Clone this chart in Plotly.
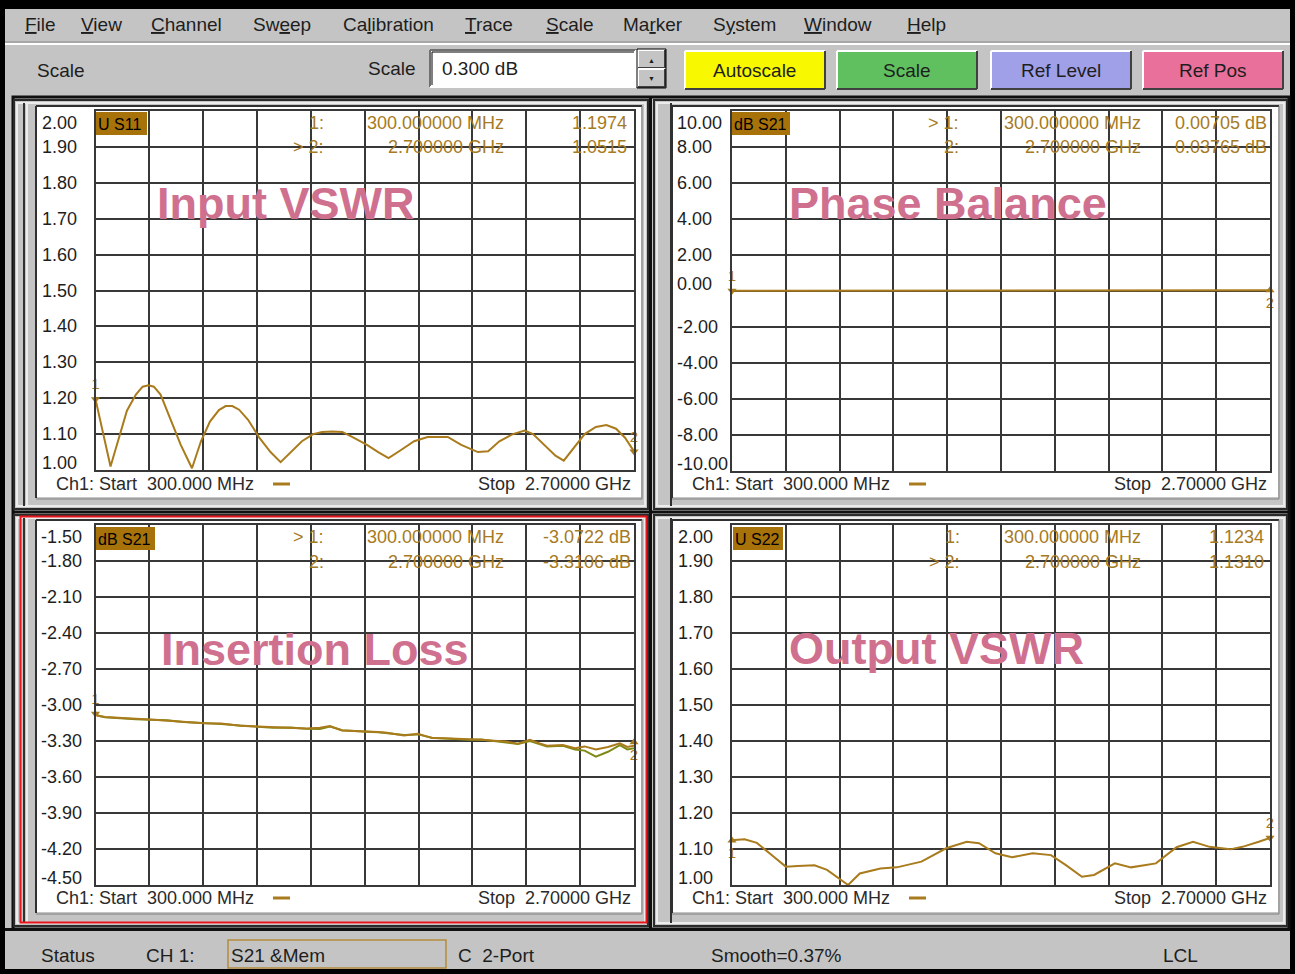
import plotly.graph_objects as go

W, H = 1295, 974
FONT = "Liberation Sans"

# ---------------- data ----------------
freq_start_mhz = 300
freq_stop_mhz = 2700
freq_div_mhz = 240

vswr_in_freq = [300, 320, 340, 367, 400, 440, 480, 510, 536, 560, 590, 630, 680, 730, 770, 810, 850, 880,
                910, 940, 980, 1030, 1080, 1125, 1170, 1220, 1270, 1310, 1355, 1400, 1450, 1510, 1560, 1606,
                1660, 1720, 1780, 1830, 1870, 1930, 2004, 2050, 2100, 2160, 2213, 2250, 2300, 2350, 2387,
                2430, 2480, 2530, 2577, 2620, 2660, 2700]
vswr_in_val = [1.197, 1.14, 1.08, 1.01, 1.08, 1.165, 1.21, 1.232, 1.236, 1.232, 1.21, 1.15, 1.07, 1.005,
               1.08, 1.135, 1.167, 1.178, 1.178, 1.168, 1.14, 1.09, 1.05, 1.022, 1.05, 1.08, 1.10, 1.106,
               1.107, 1.106, 1.09, 1.07, 1.05, 1.033, 1.055, 1.08, 1.092, 1.093, 1.092, 1.07, 1.05, 1.052,
               1.08, 1.10, 1.11, 1.10, 1.07, 1.04, 1.026, 1.06, 1.10, 1.12, 1.125, 1.115, 1.09, 1.052]

phase_freq = [300, 540, 780, 1020, 1260, 1500, 1740, 1980, 2220, 2400, 2460, 2700]
phase_val = [0.007, 0.010, 0.012, 0.015, 0.018, 0.020, 0.022, 0.025, 0.030, 0.050, 0.032, 0.037]

il_freq = [300, 311, 342, 418, 480, 543, 620, 690, 784, 860, 944, 1020, 1091, 1170, 1238, 1300, 1345,
           1399, 1450, 1510, 1560, 1599, 1675, 1737, 1800, 1880, 1965, 2020, 2076, 2130, 2183, 2236,
           2280, 2312, 2383, 2437, 2480, 2530, 2584, 2637, 2670, 2700]
il_data = [-3.072, -3.09, -3.10, -3.11, -3.115, -3.12, -3.13, -3.14, -3.152, -3.155, -3.172, -3.18,
           -3.186, -3.19, -3.195, -3.19, -3.175, -3.212, -3.215, -3.22, -3.225, -3.232, -3.255, -3.24,
           -3.276, -3.28, -3.285, -3.29, -3.298, -3.305, -3.322, -3.29, -3.32, -3.34, -3.333, -3.36,
           -3.345, -3.37, -3.35, -3.32, -3.35, -3.34]
il_mem = [-3.06, -3.088, -3.102, -3.112, -3.118, -3.122, -3.128, -3.142, -3.15, -3.158, -3.17, -3.182,
          -3.19, -3.188, -3.198, -3.20, -3.18, -3.21, -3.218, -3.222, -3.228, -3.235, -3.25, -3.245,
          -3.272, -3.282, -3.29, -3.288, -3.30, -3.31, -3.325, -3.30, -3.325, -3.345, -3.34, -3.37,
          -3.38, -3.43, -3.39, -3.335, -3.37, -3.36]

vswr_out_freq = [300, 310, 356, 411, 485, 540, 594, 668, 724, 777, 818, 870, 962, 1035, 1145, 1255, 1347,
                 1402, 1475, 1549, 1641, 1723, 1788, 1861, 1915, 2008, 2080, 2191, 2283, 2357, 2430, 2522,
                 2577, 2650, 2700]
vswr_out_val = [1.123, 1.125, 1.127, 1.117, 1.079, 1.051, 1.053, 1.055, 1.042, 1.019, 1.0, 1.032, 1.046,
                1.049, 1.065, 1.102, 1.12, 1.116, 1.088, 1.077, 1.088, 1.083, 1.056, 1.023, 1.028, 1.06,
                1.049, 1.06, 1.105, 1.12, 1.106, 1.099, 1.106, 1.12, 1.131]

in_ticks = ["2.00", "1.90", "1.80", "1.70", "1.60", "1.50", "1.40", "1.30", "1.20", "1.10", "1.00"]
phase_ticks = ["10.00", "8.00", "6.00", "4.00", "2.00", "0.00", "-2.00", "-4.00", "-6.00", "-8.00", "-10.00"]
il_ticks = ["-1.50", "-1.80", "-2.10", "-2.40", "-2.70", "-3.00", "-3.30", "-3.60", "-3.90", "-4.20", "-4.50"]
out_ticks = ["2.00", "1.90", "1.80", "1.70", "1.60", "1.50", "1.40", "1.30", "1.20", "1.10", "1.00"]

panel_titles = ["Input VSWR", "Phase Balance", "Insertion Loss", "Output VSWR"]
panel_params = ["U S11", "dB S21", "dB S21", "U S22"]
marker1_vals = [1.1974, 0.00705, -3.0722, 1.1234]
marker2_vals = [1.0515, 0.03765, -3.3106, 1.1310]
marker1_text = ["1.1974", "0.00705 dB", "-3.0722 dB", "1.1234"]
marker2_text = ["1.0515", "0.03765 dB", "-3.3106 dB", "1.1310"]
marker1_freq_text = "300.000000 MHz"
marker2_freq_text = "2.700000 GHz"
active_marker = [2, 1, 1, 2]
ref_values = [1.0, 0.0, -3.0, 1.0]
start_text = "Ch1: Start  300.000 MHz"
stop_text = "Stop  2.70000 GHz"

menu_items = ["<u>F</u>ile", "<u>V</u>iew", "<u>C</u>hannel", "Sw<u>e</u>ep", "Ca<u>l</u>ibration",
              "<u>T</u>race", "<u>S</u>cale", "Ma<u>r</u>ker", "S<u>y</u>stem", "<u>W</u>indow", "<u>H</u>elp"]
toolbar_buttons = ["Autoscale", "Scale", "Ref Level", "Ref Pos"]
scale_value_text = "0.300 dB"
status_items = ["Status", "CH 1:", "S21 &Mem", "C  2-Port", "Smooth=0.37%", "LCL"]

# ---------------- styling / layout positions ----------------
GOLD = "#a97b1c"
OLIVE = "#7f8a14"
TXT_GOLD = "#a67a22"
PINK = "#d0708f"
GRID = "#383838"
GRAY = "#c4c4c4"
LABEL_BOX = "#a8720a"
DARK_TXT = "#1e1e1e"

menu_x = [24, 80, 150, 252, 342, 464, 545, 622, 712, 803, 906]
button_boxes = [(685, 51, 825, 89), (837, 51, 977, 89), (991, 51, 1131, 89), (1143, 51, 1283, 89)]
button_colors = ["#f8f800", "#60c060", "#a0a0e8", "#e8709a"]

panels = [
    dict(ox=(14, 648), oy=(100, 509), ix=(37, 641), iy=(107, 497), dx=(95.5, 634), dy=(111, 470),
         yr=[1.0, 2.0], dt=0.1, lblx=41, title=(158, 203), box=(96, 112, 147, 135),
         mk=(325, 505, 628), mky=(123, 147), foot=(55, 273, 632, 484)),
    dict(ox=(654, 1287), oy=(100, 509), ix=(673, 1278), iy=(107, 497), dx=(732, 1270), dy=(111, 471),
         yr=[-10.0, 10.0], dt=2.0, lblx=676, title=(790, 203), box=(732, 112, 790, 135),
         mk=(960, 1142, 1268), mky=(123, 147), foot=(691, 909, 1268, 484)),
    dict(ox=(14, 648), oy=(515, 926), ix=(37, 641), iy=(521, 912), dx=(95.5, 634), dy=(525, 885),
         yr=[-4.5, -1.5], dt=0.3, lblx=40, title=(162, 649), box=(96, 527, 155, 550),
         mk=(325, 505, 632), mky=(537, 562), foot=(55, 273, 632, 898)),
    dict(ox=(654, 1287), oy=(515, 926), ix=(673, 1278), iy=(521, 912), dx=(732, 1270), dy=(525, 885),
         yr=[1.0, 2.0], dt=0.1, lblx=677, title=(790, 648), box=(733, 527, 783, 550),
         mk=(961, 1142, 1265), mky=(537, 562), foot=(691, 909, 1268, 898)),
]
tick_sets = [in_ticks, phase_ticks, il_ticks, out_ticks]
marker_style = [("triangle-down", "top center", "triangle-down", "top center"),
                ("triangle-down", "top center", "triangle-up", "bottom center"),
                ("triangle-down", "top center", "triangle-up", "bottom center"),
                ("triangle-up", "bottom center", "triangle-down", "top center")]

shapes, ann = [], []


def X(p):
    return p / W


def Y(p):
    return 1 - p / H


def rect(x0, y0, x1, y1, fill=None, line=None, lw=0, layer="below"):
    d = dict(type="rect", xref="paper", yref="paper", x0=X(x0), x1=X(x1), y0=Y(y1), y1=Y(y0),
             layer=layer, line=dict(width=lw, color=line or "rgba(0,0,0,0)"))
    if fill:
        d["fillcolor"] = fill
    shapes.append(d)


def seg(x0, y0, x1, y1, color, lw=1, layer="below"):
    shapes.append(dict(type="line", xref="paper", yref="paper", x0=X(x0), x1=X(x1), y0=Y(y0), y1=Y(y1),
                       line=dict(color=color, width=lw), layer=layer))


def txt(x, y, s, size=18, color=DARK_TXT, anchor="left"):
    ann.append(dict(xref="paper", yref="paper", x=X(x), y=Y(y), text=s, showarrow=False, xanchor=anchor,
                    yanchor="middle", font=dict(family=FONT, size=size, color=color), borderpad=0))


def bevel(x0, y0, x1, y1, fill, raised=True):
    rect(x0, y0, x1, y1, fill=fill)
    lt = "#ffffff" if raised else "#707070"
    dk = "#404040" if raised else "#ffffff"
    seg(x0, y0, x1, y0, lt, 2)
    seg(x0, y0, x0, y1, lt, 2)
    seg(x0, y1, x1, y1, dk, 2)
    seg(x1, y0, x1, y1, dk, 2)


# ---------------- window chrome ----------------
rect(5, 9, 1290, 969, fill=GRAY)
seg(5, 42, 1290, 42, "#8a8a8a", 1)
seg(5, 44, 1290, 44, "#ffffff", 2)
for mx, m in zip(menu_x, menu_items):
    txt(mx, 24, m, size=19)

txt(36, 70, "Scale", size=19)
txt(417, 68, "Scale", size=19, anchor="right")
bevel(430, 50, 636, 87, "#ffffff", raised=False)
seg(432, 52, 634, 52, "#000000", 1)
seg(432, 52, 432, 85, "#000000", 1)
txt(441, 68, scale_value_text, size=19)
bevel(638, 50, 665, 68, GRAY)
bevel(638, 69, 665, 87, GRAY)
rect(637, 49, 666, 88, line="#000000", lw=1)
txt(651.5, 60, "▲", size=7, anchor="center")
txt(651.5, 78, "▼", size=7, anchor="center")
for (x0, y0, x1, y1), col, lab in zip(button_boxes, button_colors, toolbar_buttons):
    bevel(x0, y0, x1, y1, col)
    txt((x0 + x1) / 2, (y0 + y1) / 2, lab, size=19, anchor="center")

# panel area
rect(13, 97, 1289, 929, fill=GRAY, line="#101010", lw=3)
seg(650.5, 97, 650.5, 929, "#101010", 3)
seg(13, 512, 1289, 512, "#101010", 3)

for i, p in enumerate(panels):
    (ox0, ox1), (oy0, oy1) = p["ox"], p["oy"]
    (ix0, ix1), (iy0, iy1) = p["ix"], p["iy"]
    rect(ox0, oy0, ox1, oy1, line="#2a2a2a", lw=2)
    rect(ox0 + 3, oy0 + 3, ox1 - 3, oy1 - 3, line="#ececec", lw=2)
    if i in (0, 2):
        seg(ox0 + 10, oy0 + 3, ox0 + 10, oy1 - 3, "#303030", 2)
        seg(ox0 + 13, oy0 + 3, ox0 + 13, oy1 - 3, "#ececec", 2)
    else:
        seg(ox0 + 17, oy0 + 3, ox0 + 17, oy1 - 3, "#303030", 2)
    rect(ix0, iy0, ix1, iy1, fill="#ffffff")
    seg(ix0 - 1, iy0 - 1, ix1 + 1, iy0 - 1, "#303030", 2)
    seg(ix0 - 1, iy0 - 1, ix0 - 1, iy1 + 1, "#303030", 2)
    seg(ix0 - 1, iy1 + 2, ix1 + 1, iy1 + 2, "#808080", 1)
    seg(ix1 + 1, iy0 - 1, ix1 + 1, iy1 + 2, "#808080", 1)

# active channel red border (bottom-left)
rect(20.5, 516.5, 646.5, 922.5, line="#e8141c", lw=2)

# status bar
seg(5, 929.5, 1290, 929.5, "#101010", 3)
txt(40, 955, status_items[0], size=19)
txt(145, 955, status_items[1], size=19)
rect(228, 940, 446, 968, line="#b48a3c", lw=1.5)
txt(230, 955, status_items[2], size=19)
txt(457, 955, status_items[3], size=19)
txt(710, 955, status_items[4], size=19)
txt(1162, 955, status_items[5], size=19)

# ---------------- plots ----------------
fig = go.Figure()
series = [
    [(vswr_in_freq, vswr_in_val, GOLD)],
    [(phase_freq, phase_val, GOLD)],
    [(il_freq, il_mem, OLIVE), (il_freq, il_data, GOLD)],
    [(vswr_out_freq, vswr_out_val, GOLD)],
]
layout_axes = {}
for i, p in enumerate(panels):
    s = "" if i == 0 else str(i + 1)
    xa, ya = "x" + s, "y" + s
    for fx, fy, col in series[i]:
        fig.add_trace(go.Scatter(x=fx, y=fy, mode="lines", line=dict(color=col, width=2),
                                 xaxis=xa, yaxis=ya, hoverinfo="skip", cliponaxis=True))
    s1, p1, s2, p2 = marker_style[i]
    fig.add_trace(go.Scatter(x=[freq_start_mhz, freq_stop_mhz], y=[marker1_vals[i], marker2_vals[i]],
                             mode="markers+text", text=["1", "2"], textposition=[p1, p2],
                             textfont=dict(family=FONT, size=15, color=GOLD),
                             marker=dict(symbol=[s1, s2], size=8, color=GOLD),
                             xaxis=xa, yaxis=ya, cliponaxis=False, hoverinfo="skip"))
    fig.add_trace(go.Scatter(x=[freq_start_mhz - 10, freq_stop_mhz + 10], y=[ref_values[i]] * 2,
                             mode="markers", marker=dict(symbol=["triangle-right", "triangle-left"],
                                                         size=8, color=GOLD),
                             xaxis=xa, yaxis=ya, cliponaxis=False, hoverinfo="skip"))
    layout_axes["xaxis" + s] = dict(domain=[X(p["dx"][0]), X(p["dx"][1])],
                                    range=[freq_start_mhz, freq_stop_mhz], tick0=freq_start_mhz,
                                    dtick=freq_div_mhz, showgrid=True, gridcolor=GRID, gridwidth=2,
                                    showline=True, mirror=True, linecolor=GRID, linewidth=2,
                                    zeroline=False, showticklabels=False, ticks="", anchor=ya,
                                    fixedrange=True)
    layout_axes["yaxis" + s] = dict(domain=[Y(p["dy"][1]), Y(p["dy"][0])], range=p["yr"],
                                    tick0=p["yr"][0], dtick=p["dt"], showgrid=True, gridcolor=GRID,
                                    gridwidth=2, showline=True, mirror=True, linecolor=GRID,
                                    linewidth=2, zeroline=False, showticklabels=False, ticks="",
                                    anchor=xa, fixedrange=True)
    # y tick labels
    ticks = tick_sets[i]
    for k, lab in enumerate(ticks):
        shift = 0
        if k == 0:
            shift = -12
        elif k == len(ticks) - 1:
            shift = 7
        elif lab == "0.00":
            shift = 7
        ann.append(dict(xref="paper", yref=ya, x=X(p["lblx"]), y=float(lab), yshift=shift, text=lab,
                        showarrow=False, xanchor="left", yanchor="middle", borderpad=0,
                        font=dict(family=FONT, size=18, color=DARK_TXT)))
    # parameter label box
    bx0, by0, bx1, by1 = p["box"]
    rect(bx0, by0, bx1, by1, fill=LABEL_BOX, layer="above")
    txt(bx0 + 1, (by0 + by1) / 2 + 1, panel_params[i], size=16, color="#000000")
    # big pink title
    tx, ty = p["title"]
    txt(tx - 2, ty, "<b>" + panel_titles[i] + "</b>", size=45, color=PINK)
    # marker readouts
    c1, c2, c3 = p["mk"]
    r1, r2 = p["mky"]
    lab1 = "> 1:" if active_marker[i] == 1 else "1:"
    lab2 = "> 2:" if active_marker[i] == 2 else "2:"
    txt(c1, r1, lab1, color=TXT_GOLD, anchor="right")
    txt(c2, r1, marker1_freq_text, color=TXT_GOLD, anchor="right")
    txt(c3, r1, marker1_text[i], color=TXT_GOLD, anchor="right")
    txt(c1, r2, lab2, color=TXT_GOLD, anchor="right")
    txt(c2, r2, marker2_freq_text, color=TXT_GOLD, anchor="right")
    txt(c3, r2, marker2_text[i], color=TXT_GOLD, anchor="right")
    # footer
    fx0, fdash, fx1, fy = p["foot"]
    txt(fx0, fy, start_text, size=18, color="#2a2a2a")
    seg(fdash, fy, fdash + 17, fy, GOLD, 3)
    txt(fx1, fy, stop_text, size=18, color="#2a2a2a", anchor="right")

fig.update_layout(width=W, height=H, margin=dict(l=0, r=0, t=0, b=0, pad=0),
                  paper_bgcolor="#000000", plot_bgcolor="#ffffff", showlegend=False,
                  shapes=shapes, annotations=ann, **layout_axes)

fig.write_html("out.html", config={"displayModeBar": False},
               post_script="document.body.style.margin='0';")
